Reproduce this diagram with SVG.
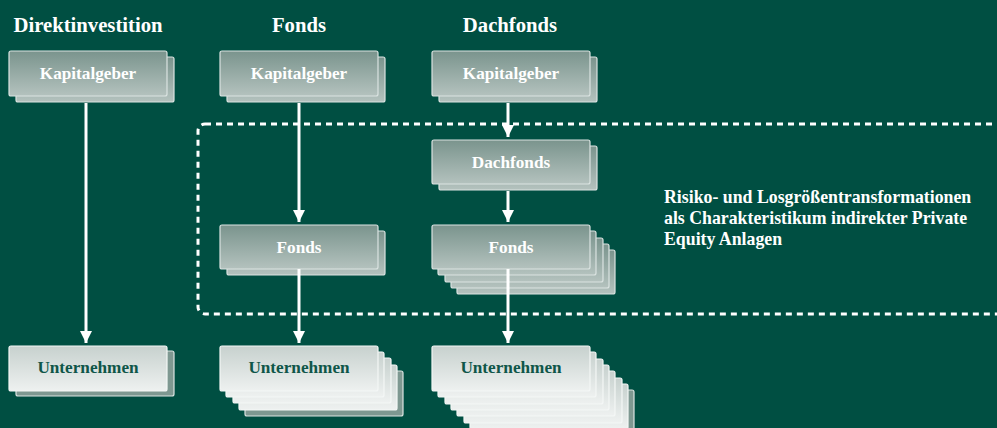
<svg xmlns="http://www.w3.org/2000/svg" width="997" height="428" viewBox="0 0 997 428">
<defs>
<linearGradient id="gDark" x1="0" y1="0" x2="0" y2="1">
<stop offset="0" stop-color="#7a948d"/>
<stop offset="1" stop-color="#b4c2be"/>
</linearGradient>
<linearGradient id="gLight" x1="0" y1="0" x2="0" y2="1">
<stop offset="0" stop-color="#c7d1ce"/>
<stop offset="1" stop-color="#eef1f0"/>
</linearGradient>
<marker id="ah" viewBox="0 -6 12 12" refX="12" refY="0" markerWidth="12" markerHeight="12" markerUnits="userSpaceOnUse" orient="auto">
<path d="M0,-6 L12,0 L0,6 z" fill="#ffffff"/>
</marker>
<style>
.dk{fill:url(#gDark);stroke:#dbe3e1;stroke-width:1.2}
.lt{fill:url(#gLight);stroke:#f4f7f6;stroke-width:1.2}
.sh{fill:#7e9891;stroke:#dbe3e1;stroke-width:1.2}
.hd{font-family:"Liberation Serif",serif;font-weight:bold;font-size:20.7px;fill:#ffffff;text-anchor:middle}
.lw{font-family:"Liberation Serif",serif;font-weight:bold;font-size:17.2px;fill:#ffffff;text-anchor:middle}
.lg{font-family:"Liberation Serif",serif;font-weight:bold;font-size:17.2px;fill:#0f5649;text-anchor:middle}
.nt{font-family:"Liberation Serif",serif;font-weight:bold;font-size:17.8px;fill:#ffffff}
.cn{stroke:#ffffff;stroke-width:3;fill:none;marker-end:url(#ah)}
</style>
</defs>
<rect x="0" y="0" width="997" height="428" fill="#004f42"/>

<g id="headers">
<text class="hd" x="88" y="32">Direktinvestition</text>
<text class="hd" x="299" y="32">Fonds</text>
<text class="hd" x="510" y="32">Dachfonds</text>
</g>

<g id="scope">
<rect x="198" y="124" width="830" height="190" rx="7" fill="none" stroke="#ffffff" stroke-width="3" stroke-dasharray="6 5"/>
<text class="nt" x="664" y="203">Risiko- und Losgrößentransformationen</text>
<text class="nt" x="664" y="224">als Charakteristikum indirekter Private</text>
<text class="nt" x="664" y="245">Equity Anlagen</text>
</g>

<g id="kapitalgeber1">
<rect class="dk" x="16" y="57" width="158" height="45" rx="2"/>
<rect class="dk" x="9" y="51" width="158" height="45" rx="2"/>
<text class="lw" x="88" y="79">Kapitalgeber</text>
</g>
<g id="kapitalgeber2">
<rect class="dk" x="227" y="57" width="158" height="45" rx="2"/>
<rect class="dk" x="220" y="51" width="158" height="45" rx="2"/>
<text class="lw" x="299" y="79">Kapitalgeber</text>
</g>
<g id="kapitalgeber3">
<rect class="dk" x="439" y="57" width="158" height="45" rx="2"/>
<rect class="dk" x="432" y="51" width="158" height="45" rx="2"/>
<text class="lw" x="511" y="79">Kapitalgeber</text>
</g>

<g id="dachfonds">
<rect class="dk" x="439" y="146" width="158" height="44" rx="2"/>
<rect class="dk" x="432" y="140" width="158" height="44" rx="2"/>
<text class="lw" x="511" y="168">Dachfonds</text>
</g>

<g id="fonds2">
<rect class="dk" x="227" y="231" width="158" height="44" rx="2"/>
<rect class="dk" x="220" y="225" width="158" height="44" rx="2"/>
<text class="lw" x="299" y="253">Fonds</text>
</g>

<g id="fonds3">
<rect class="dk" x="457" y="250" width="158" height="44" rx="2"/>
<rect class="dk" x="451" y="244" width="158" height="44" rx="2"/>
<rect class="dk" x="445" y="238" width="158" height="44" rx="2"/>
<rect class="dk" x="438" y="231" width="158" height="44" rx="2"/>
<rect class="dk" x="432" y="225" width="158" height="44" rx="2"/>
<text class="lw" x="511" y="253">Fonds</text>
</g>

<g id="unternehmen1">
<rect class="sh" x="16" y="351" width="158" height="45" rx="2"/>
<rect class="lt" x="9" y="346" width="158" height="45" rx="2"/>
<text class="lg" x="88" y="373">Unternehmen</text>
</g>

<g id="unternehmen2">
<rect class="sh" x="245" y="371" width="158" height="45" rx="2"/>
<rect class="lt" x="239" y="365" width="158" height="45" rx="2"/>
<rect class="lt" x="233" y="358" width="158" height="45" rx="2"/>
<rect class="lt" x="226" y="352" width="158" height="45" rx="2"/>
<rect class="lt" x="220" y="346" width="158" height="45" rx="2"/>
<text class="lg" x="299" y="373">Unternehmen</text>
</g>

<g id="unternehmen3">
<rect class="sh" x="476" y="390" width="158" height="45" rx="2"/>
<rect class="lt" x="470" y="384" width="158" height="45" rx="2"/>
<rect class="lt" x="464" y="378" width="158" height="45" rx="2"/>
<rect class="lt" x="457" y="371" width="158" height="45" rx="2"/>
<rect class="lt" x="451" y="365" width="158" height="45" rx="2"/>
<rect class="lt" x="445" y="359" width="158" height="45" rx="2"/>
<rect class="lt" x="438" y="352" width="158" height="45" rx="2"/>
<rect class="lt" x="432" y="346" width="158" height="45" rx="2"/>
<text class="lg" x="511" y="373">Unternehmen</text>
</g>

<g id="connectors">
<line class="cn" x1="86" y1="103" x2="86" y2="343"/>
<line class="cn" x1="299" y1="103" x2="299" y2="222"/>
<line class="cn" x1="299" y1="269" x2="299" y2="343"/>
<line class="cn" x1="508" y1="103" x2="508" y2="137"/>
<line class="cn" x1="508" y1="191" x2="508" y2="222"/>
<line class="cn" x1="508" y1="269" x2="508" y2="343"/>
</g>
</svg>
